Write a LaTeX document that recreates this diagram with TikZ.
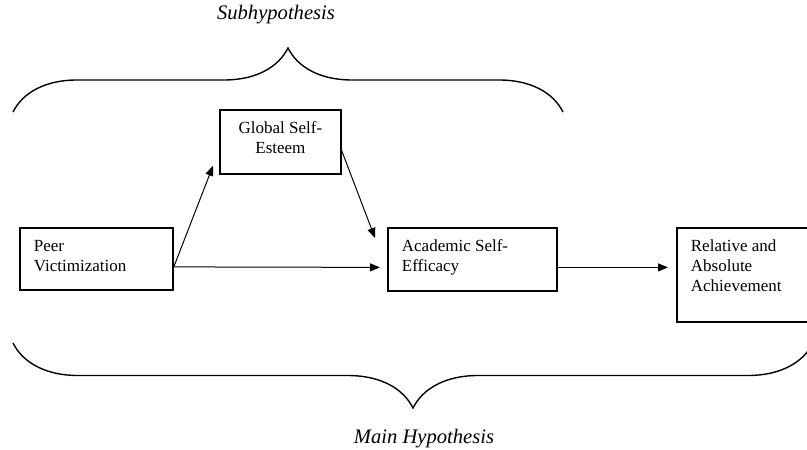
\documentclass[tikz,border=0pt]{standalone}
\usepackage{fontspec}
\setmainfont{Liberation Serif}
\usetikzlibrary{decorations.pathreplacing,arrows.meta}

\tikzset{
  block/.style={draw, line width=1.8pt, anchor=north west, inner xsep=14pt,
    inner ysep=10pt, font=\fontsize{17}{20}\selectfont},
  arr/.style={line width=1pt, -{Triangle[length=10pt,width=8pt]}},
  hyp/.style={font=\fontsize{20.6}{24}\selectfont\itshape, inner sep=0pt},
  bracket/.style={line width=1.4pt, decorate},
}

\begin{document}
\begin{tikzpicture}[x=1pt,y=-1pt]

% Page frame
\clip (0,0) rectangle (807,450);

% Define the boxes
\node[block] (peer) at (19,227) {\parbox[t][42pt][t]{125pt}{\strut Peer\\Victimization}};
\node[block] (glob) at (219,109) {\parbox[t][44pt][t]{93pt}{\centering\strut Global Self-\\Esteem}};
\node[block] (acad) at (387,227) {\parbox[t][43pt][t]{141pt}{\strut Academic Self-\\Efficacy}};
\node[block] (rel) at (676,227) {\parbox[t][74pt][t]{112pt}{\strut Relative and\\Absolute\\Achievement}};

% Draw the paths between the boxes
\draw[arr] ([yshift=-8pt]peer.east) -- ([xshift=-6pt,yshift=9pt]glob.south west);
\draw[arr] ([yshift=-9pt]glob.east) -- ([xshift=-12pt,yshift=-11pt]acad.north west);
\draw[arr, shorten >=7pt] ([yshift=-8pt]peer.east) -- ([yshift=-8pt]acad.west);
\draw[arr, shorten >=8pt] ([yshift=-8pt]acad.east) -- ([yshift=-8pt]acad.east -| rel.west);

% Draw the brackets for the two hypotheses
\draw [bracket, decoration={brace,amplitude=64pt}] (13,112) -- (563,112)
node [hyp,midway,above=87.5pt,xshift=-12pt] (sub) {Subhypothesis};
\draw [bracket, decoration={brace,amplitude=65pt,mirror}] (13,343) -- (813,343)
node [hyp,midway,below=86pt,xshift=11pt] (main) {Main Hypothesis};

\end{tikzpicture}
\end{document}
